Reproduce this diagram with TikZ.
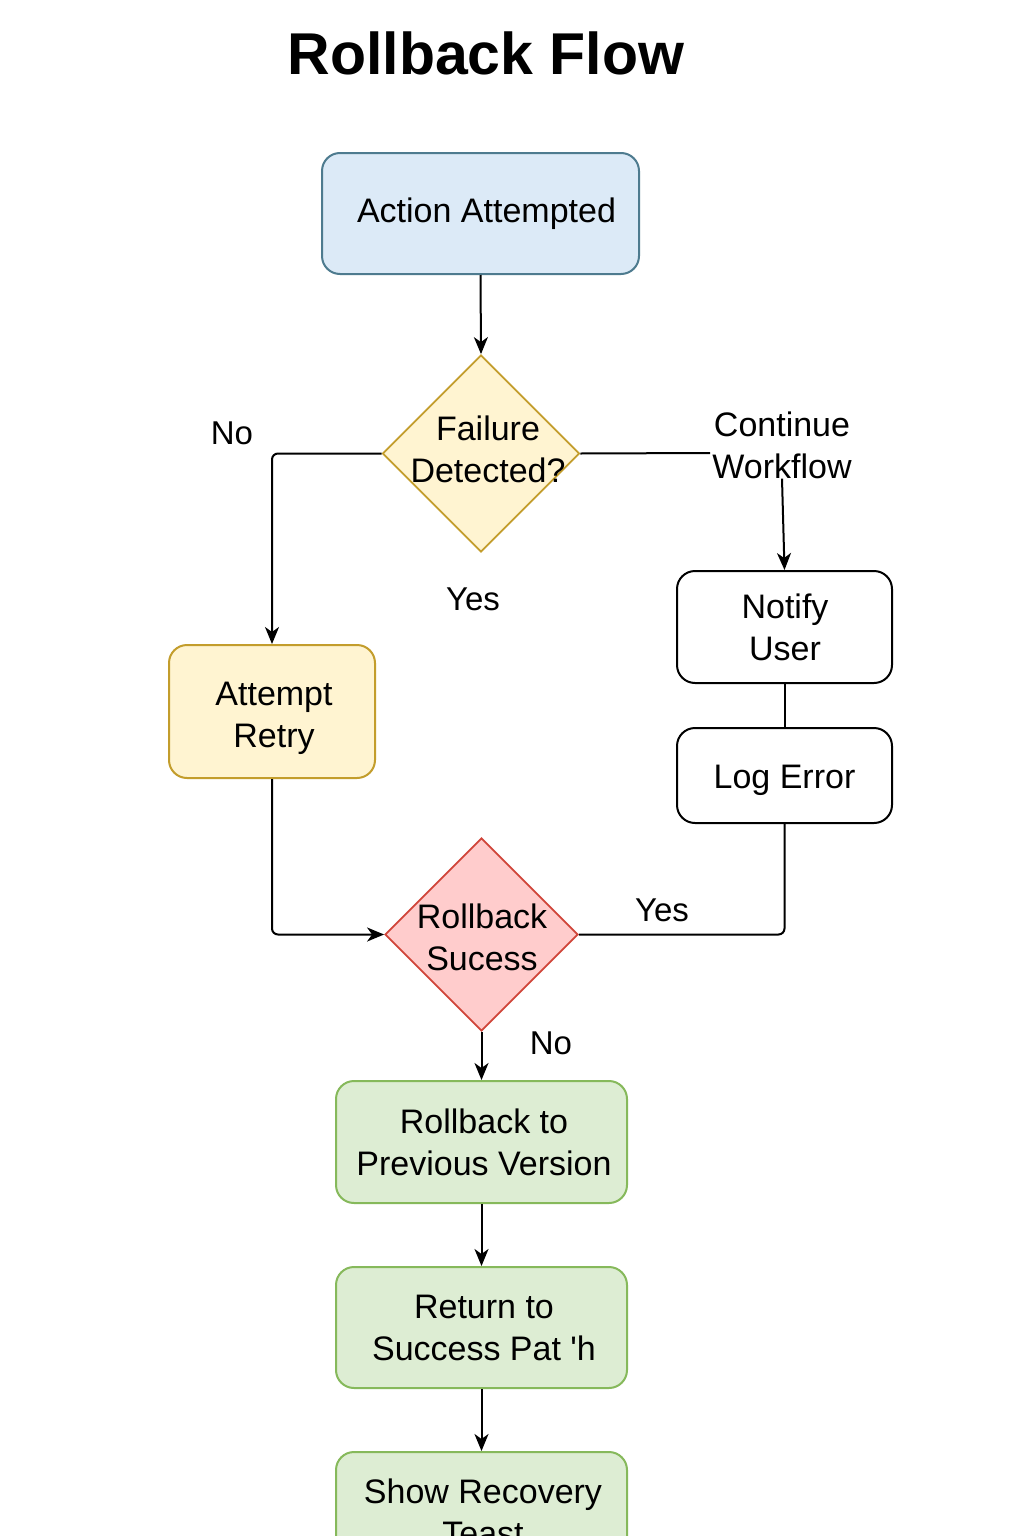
\documentclass[tikz,border=0pt]{standalone}
\usepackage{fontspec}
\setmainfont{Liberation Sans}
\newfontfamily\rawfont{Liberation Sans}
\usetikzlibrary{shapes.geometric,arrows.meta}
\definecolor{bluefill}{HTML}{DCEAF7}
\definecolor{bluedraw}{HTML}{4E7B8F}
\definecolor{yelfill}{HTML}{FFF4D1}
\definecolor{yeldraw}{HTML}{C39D2C}
\definecolor{redfill}{HTML}{FFCCCC}
\definecolor{reddraw}{HTML}{D0453A}
\definecolor{grnfill}{HTML}{DDEDD3}
\definecolor{grndraw}{HTML}{86B95B}
\begin{document}
\begin{tikzpicture}[x=1pt,y=-1pt,
  every node/.style={font=\fontsize{34}{42}\selectfont, align=center, inner sep=0pt},
  box/.style={draw, rounded corners=18pt, line width=2pt},
  dia/.style={draw, diamond, aspect=1, line width=1.8pt, minimum width=197pt, minimum height=197pt},
  lbl/.style={font=\fontsize{33}{40}\selectfont},
  conn/.style={line width=2pt, rounded corners=6pt},
  arr/.style={conn, -{Stealth[length=17pt,width=14pt,inset=5pt]}}]
\useasboundingbox (0,0) rectangle (1024,1536);
\clip (0,0) rectangle (1024,1536);
\fill[white] (0,0) rectangle (1024,1536);

\node[font=\fontsize{59}{70}\selectfont\bfseries] (title) at (486,53) {Rollback Flow};

\node[box, fill=bluefill, draw=bluedraw, minimum width=317pt, minimum height=121pt] (act) at (480.5,213.5) {\hspace*{12pt}Action Attempted};

\node[dia, fill=yelfill, draw=yeldraw] (d1) at (481,453.5) {};
\node (d1t) at (488,449) {Failure\\Detected?};

\node[lbl] (no1) at (232,433) {No};
\node[lbl] (yes1) at (473,599) {Yes};
\node (cw) at (782,445) {Continue\\Workflow};
\coordinate (cwend) at (710,453);

\node[box, fill=yelfill, draw=yeldraw, minimum width=206pt, minimum height=133pt] (retry) at (272,711.5) {};
\node (retryt) at (274,718) {Attempt\\Retry};

\node[box, fill=white, draw=black, minimum width=215pt, minimum height=112pt] (notify) at (784.5,627) {};
\node (notifyt) at (785,627) {Notify\\User};
\node[box, fill=white, draw=black, minimum width=215pt, minimum height=95pt] (log) at (784.5,775.5) {};
\node (logt) at (784.5,780) {Log Error};

\node[dia, fill=redfill, draw=reddraw, minimum width=193pt, minimum height=193pt] (d2) at (481.5,934.5) {};
\node (d2t) at (482,937) {Rollback\\Sucess};

\node[lbl] (yes2) at (662,910) {Yes};
\node[lbl] (no2) at (551,1043) {No};

\node[box, fill=grnfill, draw=grndraw, minimum width=291pt, minimum height=122pt] (rb) at (481.5,1142) {};
\node (rbt) at (484,1142) {Rollback to\\Previous Version};
\node[box, fill=grnfill, draw=grndraw, minimum width=291pt, minimum height=121pt] (ret) at (481.5,1327.5) {};
\node (rett) at (484,1328) {Return to\\Success Pat {\rawfont'}h};
\node[box, fill=grnfill, draw=grndraw, minimum width=291pt, minimum height=121pt] (show) at (481.5,1512.5) {};
\node (showt) at (483,1512) {Show Recovery\\Teast};

\draw[arr] (act.south) -- (d1.north);
\draw[arr] (d1.west) -| (retry.north);
\draw[conn] (d1.east) -- (cwend);
\draw[arr] (cw.south) -- (notify.north);
\draw[conn] (notify.south) -- (log.north);
\draw[conn] (log.south) |- (d2.east);
\draw[arr] (retry.south) |- (d2.west);
\draw[arr] (d2.south) -- (rb.north);
\draw[arr] (rb.south) -- (ret.north);
\draw[arr] (ret.south) -- (show.north);
\end{tikzpicture}
\end{document}
